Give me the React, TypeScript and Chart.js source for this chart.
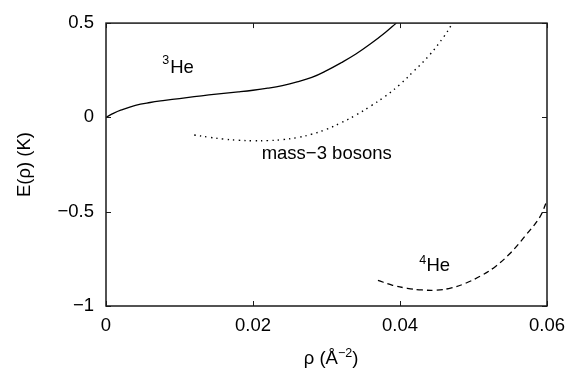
import React, { useEffect, useRef } from "react";
import { Chart, registerables } from "chart.js";

Chart.register(...registerables);

// Energy per particle E(ρ) in K versus areal density ρ in Å^-2
const he3Rho = [0, 0.001, 0.002, 0.004, 0.006, 0.008, 0.010, 0.012, 0.014, 0.016, 0.018, 0.020, 0.022, 0.024, 0.026, 0.028, 0.030, 0.032, 0.034, 0.036, 0.038, 0.0395];
const he3E = [0, 0.021, 0.038, 0.064, 0.079, 0.09, 0.1, 0.11, 0.119, 0.127, 0.135, 0.144, 0.155, 0.169, 0.188, 0.212, 0.248, 0.29, 0.336, 0.39, 0.45, 0.5];

const bosonRho = [0.012, 0.014, 0.016, 0.018, 0.020, 0.022, 0.024, 0.026, 0.028, 0.030, 0.032, 0.034, 0.036, 0.038, 0.040, 0.042, 0.044, 0.046, 0.047];
const bosonE = [-0.093, -0.105, -0.115, -0.121, -0.124, -0.123, -0.118, -0.107, -0.089, -0.063, -0.028, 0.012, 0.06, 0.112, 0.175, 0.25, 0.33, 0.43, 0.49];

const he4Rho = [0.037, 0.039, 0.041, 0.043, 0.045, 0.047, 0.049, 0.051, 0.053, 0.055, 0.057, 0.059, 0.060];
const he4E = [-0.864, -0.89, -0.906, -0.915, -0.916, -0.904, -0.878, -0.84, -0.79, -0.72, -0.63, -0.53, -0.44];

const xTicks = [0, 0.02, 0.04, 0.06];
const xTickLabels = ["0", "0.02", "0.04", "0.06"];
const yTicks = [-1, -0.5, 0, 0.5];
const yTickLabels = ["\u22121", "\u22120.5", "0", "0.5"];

const FONT = '"Liberation Sans", Arial, Helvetica, sans-serif';
const BIG = 18.5;
const SMALL = 12.5;

const toPoints = (xs: number[], ys: number[]) => xs.map((x, i) => ({ x, y: ys[i] }));

const framePlugin = {
  id: "frameAndText",
  afterDraw(chart: any) {
    const { ctx, chartArea } = chart;
    const { left, right, top, bottom } = chartArea;
    const xs = chart.scales.x;
    const ys = chart.scales.y;
    ctx.save();
    ctx.strokeStyle = "#1a1a1a";
    ctx.lineWidth = 1;
    // inward tick marks on all four sides
    ctx.beginPath();
    xTicks.forEach((v) => {
      const px = Math.round(xs.getPixelForValue(v)) + 0.5;
      ctx.moveTo(px, bottom);
      ctx.lineTo(px, bottom - 5);
      ctx.moveTo(px, top);
      ctx.lineTo(px, top + 5);
    });
    yTicks.forEach((v) => {
      const py = Math.round(ys.getPixelForValue(v)) + 0.5;
      ctx.moveTo(left, py);
      ctx.lineTo(left + 5, py);
      ctx.moveTo(right, py);
      ctx.lineTo(right - 5, py);
    });
    ctx.stroke();
    // plot frame
    ctx.lineWidth = 1.5;
    ctx.strokeRect(left, top, right - left, bottom - top);

    ctx.fillStyle = "#000";
    ctx.textBaseline = "alphabetic";
    const big = `${BIG}px ${FONT}`;
    const small = `${SMALL}px ${FONT}`;

    // curve labels
    ctx.textAlign = "left";
    ctx.font = small;
    ctx.fillText("3", 162.3, 64);
    ctx.font = big;
    ctx.fillText("He", 170.2, 72.5);

    ctx.font = small;
    ctx.fillText("4", 419.3, 263.6);
    ctx.font = big;
    ctx.fillText("He", 426.4, 270.7);

    ctx.textAlign = "center";
    ctx.font = big;
    ctx.fillText("mass\u22123 bosons", 326.7, 159);

    // x-axis title: ρ (Å^-2)
    ctx.textAlign = "left";
    ctx.font = big;
    const partA = "\u03c1 (\u00c5";
    const partC = ")";
    const wA = ctx.measureText(partA).width;
    const wC = ctx.measureText(partC).width;
    ctx.font = small;
    const partB = "\u22122";
    const wB = ctx.measureText(partB).width;
    const total = wA + wB + wC;
    const x0 = 331 - total / 2;
    const base = 364;
    ctx.font = big;
    ctx.fillText(partA, x0, base);
    ctx.font = small;
    ctx.fillText(partB, x0 + wA, base - 7);
    ctx.font = big;
    ctx.fillText(partC, x0 + wA + wB, base);

    // y-axis title
    ctx.translate(30, (top + bottom) / 2);
    ctx.rotate(-Math.PI / 2);
    ctx.textAlign = "center";
    ctx.font = big;
    ctx.fillText("E(\u03c1) (K)", 0, 0);
    ctx.restore();
  },
};

export default function App() {
  const canvasRef = useRef<HTMLCanvasElement | null>(null);

  useEffect(() => {
    const canvas = canvasRef.current;
    if (!canvas) return;
    const chart = new Chart(canvas, {
      type: "scatter",
      data: {
        datasets: [
          {
            label: "3He",
            data: toPoints(he3Rho, he3E),
            showLine: true,
            borderColor: "#000",
            borderWidth: 1.3,
            pointRadius: 0,
            tension: 0.4,
          },
          {
            label: "mass-3 bosons",
            data: toPoints(bosonRho, bosonE),
            showLine: true,
            borderColor: "#000",
            borderWidth: 1.4,
            borderDash: [1.4, 4.2],
            pointRadius: 0,
            tension: 0.4,
          },
          {
            label: "4He",
            data: toPoints(he4Rho, he4E),
            showLine: true,
            borderColor: "#000",
            borderWidth: 1.3,
            borderDash: [6, 4],
            pointRadius: 0,
            tension: 0.4,
          },
        ],
      },
      options: {
        animation: false,
        responsive: false,
        maintainAspectRatio: false,
        layout: { padding: { top: 11, right: 35, left: 0, bottom: 0 } },
        plugins: {
          legend: { display: false },
          tooltip: { enabled: false },
        },
        scales: {
          x: {
            type: "linear",
            min: 0,
            max: 0.06,
            grid: { display: false, drawTicks: false },
            border: { display: false },
            afterBuildTicks: (s: any) => {
              s.ticks = xTicks.map((value) => ({ value }));
            },
            afterFit: (s: any) => {
              s.height = 67;
            },
            ticks: {
              color: "#000",
              padding: 9,
              maxRotation: 0,
              autoSkip: false,
              font: { family: FONT, size: BIG },
              callback: (_v: any, i: number) => xTickLabels[i],
            },
          },
          y: {
            type: "linear",
            min: -1,
            max: 0.5,
            grid: { display: false, drawTicks: false },
            border: { display: false },
            afterBuildTicks: (s: any) => {
              s.ticks = yTicks.map((value) => ({ value }));
            },
            afterFit: (s: any) => {
              s.width = 106;
            },
            ticks: {
              color: "#000",
              padding: 12,
              autoSkip: false,
              font: { family: FONT, size: BIG },
              callback: (_v: any, i: number) => yTickLabels[i],
            },
          },
        },
      },
      plugins: [framePlugin],
    });
    return () => chart.destroy();
  }, []);

  return (
    <div style={{ position: "absolute", left: 0, top: 0, width: 582, height: 373, background: "#fff" }}>
      <canvas ref={canvasRef} width={582} height={373} style={{ display: "block", width: 582, height: 373 }} />
    </div>
  );
}
